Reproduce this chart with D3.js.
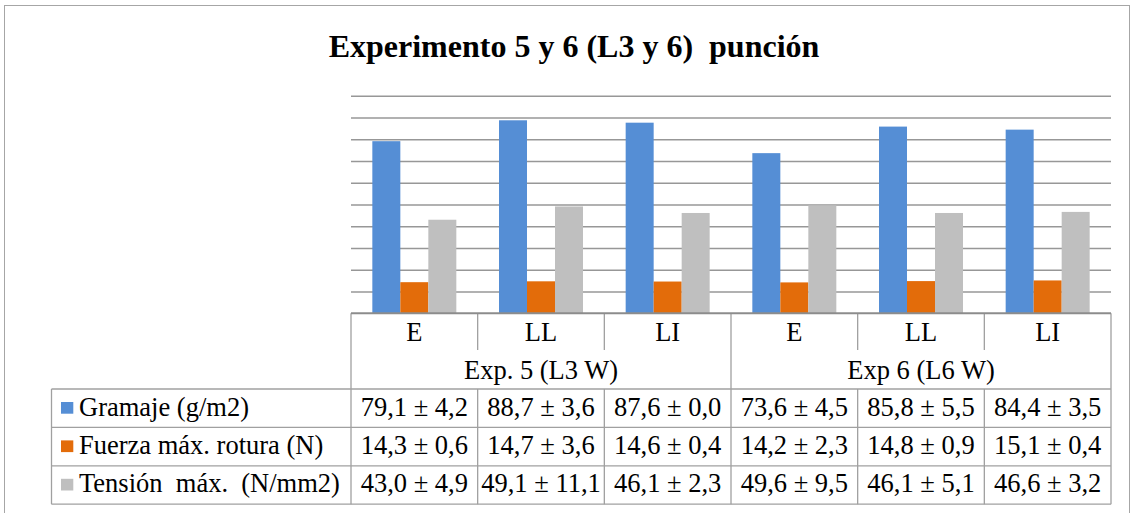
<!DOCTYPE html>
<html>
<head>
<meta charset="utf-8">
<script src="https://cdn.jsdelivr.net/npm/d3@7"></script>
<style>
  html, body { margin: 0; padding: 0; background: #fff; }
  svg { display: block; }
  svg text { font-family: "Liberation Serif", serif; fill: #000; white-space: pre; }
</style>
</head>
<body>
<svg id="chart" width="1135" height="513"></svg>
<script>
// ---- data ----
const title = "Experimento 5 y 6 (L3 y 6)  punción";
const groups = ["Exp. 5 (L3 W)", "Exp 6 (L6 W)"];
const categories = ["E", "LL", "LI", "E", "LL", "LI"];
const categoryGroup = [0, 0, 0, 1, 1, 1];
const seriesNames = ["Gramaje (g/m2)", "Fuerza máx. rotura (N)", "Tensión  máx.  (N/mm2)"];
const gramaje   = [79.1, 88.7, 87.6, 73.6, 85.8, 84.4];
const gramajeSD = [4.2, 3.6, 0.0, 4.5, 5.5, 3.5];
const fuerza    = [14.3, 14.7, 14.6, 14.2, 14.8, 15.1];
const fuerzaSD  = [0.6, 3.6, 0.4, 2.3, 0.9, 0.4];
const tension   = [43.0, 49.1, 46.1, 49.6, 46.1, 46.6];
const tensionSD = [4.9, 11.1, 2.3, 9.5, 5.1, 3.2];
const yTicks = [0, 10, 20, 30, 40, 50, 60, 70, 80, 90, 100];
const colors = ["#558ED5", "#E36C0A", "#BFBFBF"];

const series = [
  { name: seriesNames[0], values: gramaje, sd: gramajeSD },
  { name: seriesNames[1], values: fuerza, sd: fuerzaSD },
  { name: seriesNames[2], values: tension, sd: tensionSD }
];

const FONT = "'Liberation Serif', 'Times New Roman', serif";
const TFS = 26.5;

// ---- layout ----
const svg = d3.select("#chart");
const plot = { left: 351, right: 1111, top: 95.7, bottom: 313.3 };
const tableLeft = 51.5;
const rowCatBottom = 350;
const dataTop = 389, rowH = 38.4;
const dataBottom = dataTop + 3 * rowH;

// outer border
svg.append("rect").attr("x", 4.5).attr("y", 5.5).attr("width", 1125).attr("height", 520)
  .attr("fill", "none").attr("stroke", "#a6a6a6").attr("stroke-width", 1);

// title
svg.append("text").attr("x", 574).attr("y", 56.7).attr("text-anchor", "middle")
  .attr("font-family", FONT).attr("font-size", 32).attr("font-weight", "bold").text(title);

const idx = d3.range(categories.length);
const x0 = d3.scaleBand().domain(idx).range([plot.left, plot.right]).paddingInner(0).paddingOuter(0);
const x1 = d3.scaleBand().domain(d3.range(series.length)).range([0, x0.bandwidth()]).paddingInner(0).paddingOuter(0.762);
const y = d3.scaleLinear().domain([0, 100]).range([plot.bottom, plot.top]);

// gridlines via axis
const gridAxis = d3.axisLeft(y).tickValues(yTicks.slice(1)).tickSize(-(plot.right - plot.left)).tickFormat("");
const g = svg.append("g").attr("transform", `translate(${plot.left},0)`).call(gridAxis);
g.select(".domain").remove();
g.selectAll(".tick line").attr("stroke", "#979797").attr("stroke-width", 1.6);

// bars
series.forEach((s, si) => {
  svg.append("g").selectAll("rect").data(s.values).join("rect")
    .attr("x", (d, i) => x0(i) + x1(si))
    .attr("width", x1.bandwidth())
    .attr("y", d => y(d))
    .attr("height", d => y(0) - y(d))
    .attr("fill", colors[si]);
});

// table lines
const lines = svg.append("g").attr("stroke", "#a0a0a0").attr("stroke-width", 1.3);
function line(x1_, y1_, x2_, y2_) {
  lines.append("line").attr("x1", x1_).attr("y1", y1_).attr("x2", x2_).attr("y2", y2_);
}
// axis baseline
svg.append("line").attr("x1", plot.left).attr("x2", plot.right).attr("y1", y(0)).attr("y2", y(0))
  .attr("stroke", "#8c8c8c").attr("stroke-width", 2);
// verticals
const edges = idx.map(i => x0(i)).concat([plot.right]);
edges.forEach((xe, k) => {
  if (k === 0 || k === edges.length - 1 || k === 3) {
    line(xe, y(0), xe, dataBottom);
  } else {
    line(xe, y(0), xe, rowCatBottom);
    line(xe, dataTop, xe, dataBottom);
  }
});
// horizontals
for (let r = 0; r <= 3; r++) line(tableLeft, dataTop + r * rowH, plot.right, dataTop + r * rowH);
line(tableLeft, dataTop, tableLeft, dataBottom);

// category labels
svg.append("g").selectAll("text").data(categories).join("text")
  .attr("x", (d, i) => x0(i) + x0.bandwidth() / 2).attr("y", 341)
  .attr("font-family", FONT).attr("text-anchor", "middle").attr("font-size", TFS).text(d => d);
// group labels
svg.append("g").selectAll("text").data(groups).join("text")
  .attr("x", (d, gi) => {
    const members = idx.filter(i => categoryGroup[i] === gi);
    return (x0(members[0]) + x0(members[members.length - 1]) + x0.bandwidth()) / 2;
  })
  .attr("y", 378.5).attr("font-family", FONT).attr("text-anchor", "middle").attr("font-size", TFS).text(d => d);

// data table
const fmt = v => d3.format(".1f")(v).replace(".", ",");
series.forEach((s, si) => {
  const ty = dataTop + si * rowH;
  svg.append("rect").attr("x", 61).attr("y", ty + 13).attr("width", 12.3).attr("height", 11.7).attr("fill", colors[si]);
  svg.append("text").attr("x", 79).attr("y", ty + 26.5).attr("font-family", FONT).attr("font-size", TFS).text(s.name);
  svg.append("g").selectAll("text").data(s.values).join("text")
    .attr("x", (d, i) => x0(i) + x0.bandwidth() / 2).attr("y", ty + 26.5)
    .attr("font-family", FONT).attr("text-anchor", "middle").attr("font-size", TFS)
    .text((d, i) => `${fmt(d)} ± ${fmt(s.sd[i])}`);
});
</script>
</body>
</html>
